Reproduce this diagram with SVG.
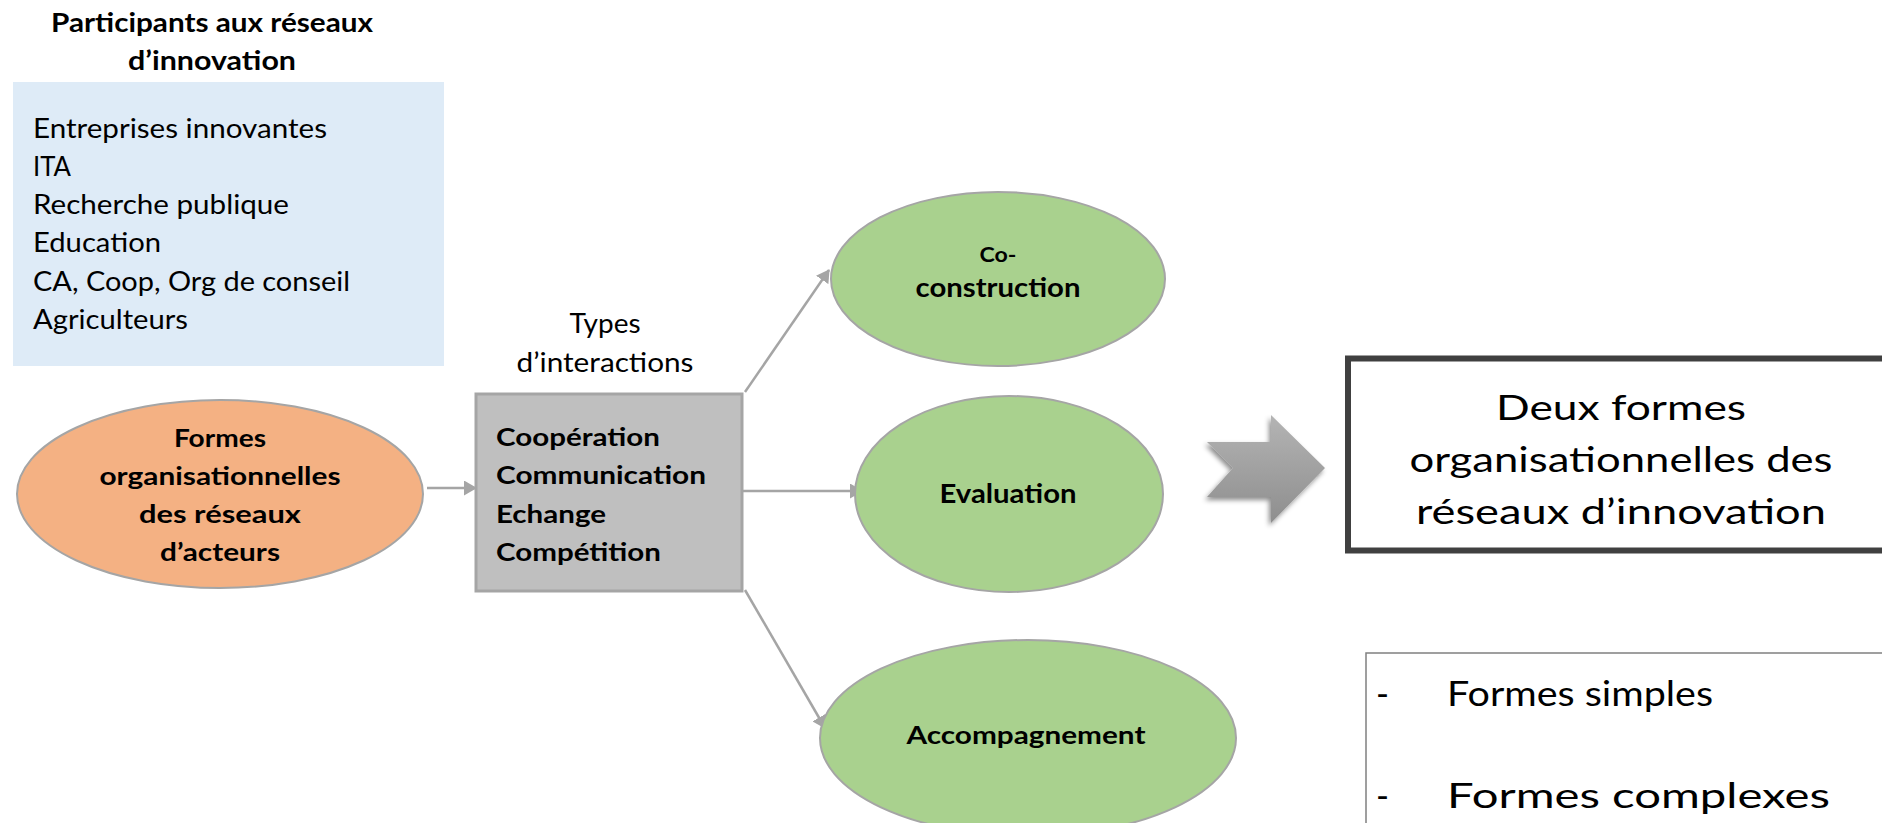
<svg xmlns="http://www.w3.org/2000/svg" width="1882" height="823" viewBox="0 0 1882 823">
<style>
text{font-family:Lato,"Liberation Sans",sans-serif;fill:#000}
.b{font-weight:bold}
.t25{font-size:26px}
.t24{font-size:26px}
.t23{font-size:24px}
.big{font-size:35px}
.m{text-anchor:middle}
.ell{stroke:#A5A5A5;stroke-width:2}
.green{fill:#A9D18E}
.conn{stroke:#A5A5A5;stroke-width:2.5;fill:none;marker-end:url(#ah)}
</style>
<defs>
<marker id="ah" viewBox="0 0 13 15" refX="12" refY="7.5" markerWidth="13" markerHeight="15" markerUnits="userSpaceOnUse" orient="auto">
<path d="M0,0 L13,7.5 L0,15 z" fill="#A5A5A5"/>
</marker>
<linearGradient id="gchev" x1="0" y1="0" x2="0" y2="1">
<stop offset="0" stop-color="#B4B4B4"/>
<stop offset="1" stop-color="#8E8E8E"/>
</linearGradient>
<filter id="sh" x="-30%" y="-30%" width="160%" height="160%">
<feDropShadow dx="-2" dy="3" stdDeviation="2.5" flood-color="#000" flood-opacity="0.45"/>
</filter>
</defs>
<rect width="1882" height="823" fill="#fff"/>

<g id="participants">
<text class="b t25" x="51" y="32" textLength="322" lengthAdjust="spacingAndGlyphs">Participants aux réseaux</text>
<text class="b t25" x="128" y="70" textLength="168" lengthAdjust="spacingAndGlyphs">d’innovation</text>
<rect x="13" y="82" width="431" height="284" fill="#DEEBF7"/>
<text class="t24" x="33" y="138" textLength="294" lengthAdjust="spacingAndGlyphs">Entreprises innovantes</text>
<text class="t24" x="33" y="176" textLength="38" lengthAdjust="spacingAndGlyphs">ITA</text>
<text class="t24" x="33" y="214" textLength="256" lengthAdjust="spacingAndGlyphs">Recherche publique</text>
<text class="t24" x="33" y="252" textLength="128" lengthAdjust="spacingAndGlyphs">Education</text>
<text class="t24" x="33" y="291" textLength="317" lengthAdjust="spacingAndGlyphs">CA, Coop, Org de conseil</text>
<text class="t24" x="33" y="329" textLength="155" lengthAdjust="spacingAndGlyphs">Agriculteurs</text>
</g>

<g id="connectors">
<path class="conn" d="M427,488 L476,488"/>
<path class="conn" d="M745,392 L829,270"/>
<path class="conn" d="M743,491 L862,491"/>
<path class="conn" d="M745,590 L825,728"/>
</g>

<g id="formes">
<ellipse class="ell" cx="220" cy="494" rx="203" ry="94" fill="#F4B183"/>
<text class="b t23 m" x="220" y="447" textLength="92" lengthAdjust="spacingAndGlyphs">Formes</text>
<text class="b t23 m" x="220" y="485" textLength="241" lengthAdjust="spacingAndGlyphs">organisationnelles</text>
<text class="b t23 m" x="220" y="523" textLength="162" lengthAdjust="spacingAndGlyphs">des réseaux</text>
<text class="b t23 m" x="220" y="561" textLength="120" lengthAdjust="spacingAndGlyphs">d’acteurs</text>
</g>

<g id="types-label">
<text class="t24 m" x="605" y="333" textLength="71" lengthAdjust="spacingAndGlyphs">Types</text>
<text class="t24 m" x="605" y="372" textLength="177" lengthAdjust="spacingAndGlyphs">d’interactions</text>
</g>

<g id="interactions">
<rect x="476" y="394" width="266" height="197" fill="#BFBFBF" stroke="#A5A5A5" stroke-width="3"/>
<text class="b t23" x="496" y="446" textLength="164" lengthAdjust="spacingAndGlyphs">Coopération</text>
<text class="b t23" x="496" y="484" textLength="210" lengthAdjust="spacingAndGlyphs">Communication</text>
<text class="b t23" x="496" y="523" textLength="110" lengthAdjust="spacingAndGlyphs">Echange</text>
<text class="b t23" x="496" y="561" textLength="165" lengthAdjust="spacingAndGlyphs">Compétition</text>
</g>

<g id="coconstruction">
<ellipse class="ell green" cx="998" cy="279" rx="167" ry="87"/>
<text class="b m" style="font-size:21px" x="998" y="262" textLength="37" lengthAdjust="spacingAndGlyphs">Co-</text>
<text class="b m" style="font-size:26px" x="998" y="297" textLength="165" lengthAdjust="spacingAndGlyphs">construction</text>
</g>

<g id="evaluation">
<ellipse class="ell green" cx="1009" cy="494" rx="154" ry="98"/>
<text class="b m" style="font-size:26px" x="1008" y="503" textLength="137" lengthAdjust="spacingAndGlyphs">Evaluation</text>
</g>

<g id="accompagnement">
<ellipse class="ell green" cx="1028" cy="738" rx="208" ry="98"/>
<text class="b t23 m" x="1026" y="744" textLength="239" lengthAdjust="spacingAndGlyphs">Accompagnement</text>
</g>

<g id="chevron">
<polygon points="1207,442 1271,442 1271,415 1325,468 1271,523 1271,497 1207,497 1233,468" fill="url(#gchev)" filter="url(#sh)"/>
</g>

<g id="deux-formes">
<rect x="1348" y="358.5" width="600" height="192" fill="#fff" stroke="#404040" stroke-width="6"/>
<text class="big m" x="1621" y="420" textLength="250" lengthAdjust="spacingAndGlyphs">Deux formes</text>
<text class="big m" x="1621" y="472" textLength="423" lengthAdjust="spacingAndGlyphs">organisationnelles des</text>
<text class="big m" x="1621" y="524" textLength="410" lengthAdjust="spacingAndGlyphs">réseaux d’innovation</text>
</g>

<g id="liste-formes">
<rect x="1366" y="653" width="600" height="300" fill="#fff" stroke="#808080" stroke-width="1.5"/>
<text class="big" x="1376" y="706">-</text>
<text class="big" x="1447" y="706" textLength="266" lengthAdjust="spacingAndGlyphs">Formes simples</text>
<text class="big" x="1376" y="808">-</text>
<text class="big" x="1447" y="808" textLength="383" lengthAdjust="spacingAndGlyphs">Formes complexes</text>
</g>
</svg>
